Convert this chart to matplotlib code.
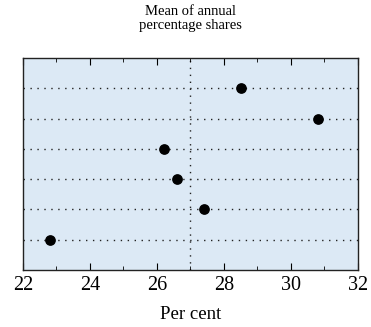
import matplotlib
matplotlib.use("Agg")
import matplotlib.pyplot as plt
from matplotlib.ticker import MultipleLocator

values = [28.5, 30.8, 26.2, 26.6, 27.4, 22.8]
rows = [6, 5, 4, 3, 2, 1]
xticks = [22, 24, 26, 28, 30, 32]
ref_line = 27

plt.rcParams['font.family'] = ['Liberation Serif', 'DejaVu Serif']

fig = plt.figure(figsize=(3.71, 3.27), dpi=100)
ax = fig.add_axes([23/371, 1-270/327, 335/371, 212/327])
ax.set_facecolor('#dce9f5')

for r in rows:
    ax.axhline(r, color='#222222', linestyle=(0, (1, 4)), linewidth=1.0, zorder=1)
ax.axvline(ref_line, color='#222222', linestyle=(0, (1, 4)), linewidth=1.0, zorder=1)
ax.scatter(values, rows, s=45, color='black', zorder=3)

ax.set_xlim(22, 32)
ax.set_ylim(0, 7)
ax.set_xticks(xticks)
ax.xaxis.set_minor_locator(MultipleLocator(1))
ax.tick_params(axis='x', which='both', direction='in', top=True, bottom=True)
ax.tick_params(axis='x', which='major', length=5, labelsize=14.5, pad=4)
ax.tick_params(axis='x', which='minor', length=3)
ax.set_yticks([])
for s in ax.spines.values():
    s.set_linewidth(1.0)
    s.set_color('#222222')

ax.set_xlabel('Per cent', fontsize=13.5, labelpad=8)
fig.text(0.5135, 1-15/327, 'Mean of annual', ha='center', va='baseline', fontsize=10.5)
fig.text(0.5135, 1-29/327, 'percentage shares', ha='center', va='baseline', fontsize=10.5)

fig.savefig('out.png', dpi=100)
